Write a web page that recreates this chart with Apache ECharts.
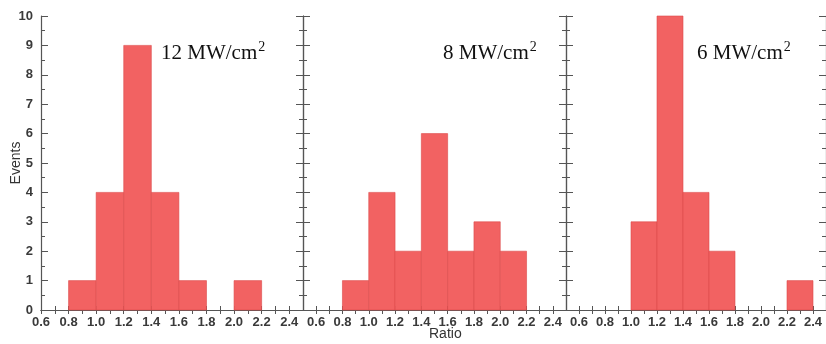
<!DOCTYPE html>
<html>
<head>
<meta charset="utf-8">
<script src="https://cdn.jsdelivr.net/npm/echarts@6/dist/echarts.min.js"></script>
<style>
  html, body { margin: 0; padding: 0; background: #fff; }
  #chart { width: 826px; height: 344px; }
</style>
</head>
<body>
<div id="chart"></div>
<script>
// histogram bins (left edge), bin width 0.2
const binStarts = [0.8, 1.0, 1.2, 1.4, 1.6, 1.8, 2.0, 2.2];
const binWidth = 0.2;
const events12 = [1, 4, 9, 4, 1, 0, 1, 0];
const events8 = [1, 4, 2, 6, 2, 3, 2, 0];
const events6 = [0, 3, 10, 4, 2, 0, 0, 1];
const panelPower = ["12", "8", "6"];
const xTickLabels = [0.6, 0.8, 1.0, 1.2, 1.4, 1.6, 1.8, 2.0, 2.2, 2.4];
const xMinor = [];
for (let i = 6; i <= 24; i++) xMinor.push(i / 10);

const chart = echarts.init(document.getElementById("chart"));

const axisColor = "#555";
const labelFont = {
  color: "#3a3a3a",
  fontSize: 13,
  fontWeight: "bold",
  fontFamily: "Liberation Sans, Arial, sans-serif",
};

const grids = [
  { left: 41, top: 16, width: 262, height: 294 },
  { left: 303, top: 16, width: 263, height: 294 },
  { left: 566, top: 16, width: 262, height: 294 },
];
const xMins = [0.6, 0.5, 0.5];
const allEvents = [events12, events8, events6];

function toData(counts) {
  const out = [];
  binStarts.forEach((s, i) => {
    if (counts[i] > 0) out.push([s, s + binWidth, counts[i]]);
  });
  return out;
}

function renderBin(params, api) {
  const p0 = api.coord([api.value(0), 0]);
  const p1 = api.coord([api.value(1), api.value(2)]);
  return {
    type: "rect",
    shape: { x: p0[0], y: p1[1], width: p1[0] - p0[0], height: p0[1] - p1[1] },
    style: { fill: "#f26262", stroke: "#dc4a4a", lineWidth: 0.6 },
  };
}

const xAxis = [];
const yAxis = [];
const series = [];
grids.forEach((g, i) => {
  xAxis.push({
    type: "value",
    gridIndex: i,
    min: xMins[i],
    max: 2.5,
    position: "bottom",
    splitLine: { show: false },
    axisLine: { lineStyle: { color: axisColor, width: 1.2 } },
    axisTick: { inside: true, length: 4, customValues: xMinor, lineStyle: { color: axisColor } },
    axisLabel: {
      ...labelFont,
      margin: 6,
      customValues: xTickLabels,
      formatter: (v) => v.toFixed(1),
    },
  });
  xAxis.push({
    type: "value",
    gridIndex: i,
    min: xMins[i],
    max: 2.5,
    position: "top",
    splitLine: { show: false },
    axisLine: { lineStyle: { color: axisColor, width: 1.2 } },
    axisTick: { inside: true, length: 4, customValues: xMinor, lineStyle: { color: axisColor } },
    axisLabel: { show: false },
  });
  yAxis.push({
    type: "value",
    gridIndex: i,
    min: 0,
    max: 10,
    interval: 1,
    position: "left",
    splitLine: { show: false },
    axisLine: { show: true, lineStyle: { color: axisColor, width: 1.2 } },
    axisTick: { inside: true, length: 7, lineStyle: { color: axisColor } },
    minorTick: { show: true, splitNumber: 2, length: 4, lineStyle: { color: axisColor } },
    axisLabel: { show: i === 0, ...labelFont, margin: 8 },
    name: i === 0 ? "Events" : "",
    nameLocation: "middle",
    nameGap: 18,
    nameMoveOverlap: false,
    nameTextStyle: { color: "#333", fontSize: 14, fontFamily: "Liberation Sans, Arial, sans-serif" },
  });
  yAxis.push({
    type: "value",
    gridIndex: i,
    min: 0,
    max: 10,
    interval: 1,
    position: "right",
    splitLine: { show: false },
    axisLine: { show: true, lineStyle: { color: axisColor, width: 1.2 } },
    axisTick: { inside: true, length: 7, lineStyle: { color: axisColor } },
    minorTick: { show: true, splitNumber: 2, length: 4, lineStyle: { color: axisColor } },
    axisLabel: { show: false },
  });
  series.push({
    type: "custom",
    xAxisIndex: i * 2,
    yAxisIndex: i * 2,
    renderItem: renderBin,
    encode: { x: [0, 1], y: 2 },
    data: toData(allEvents[i]),
    silent: true,
  });
});

const labelPos = [161, 443, 697];
const graphic = panelPower.map((p, i) => ({
  type: "text",
  left: labelPos[i],
  top: 40,
  style: {
    text: "{n|" + p + " MW/cm}{s|2}",
    rich: {
      n: {
        fontSize: 21,
        lineHeight: 24,
        fill: "#111",
        fontFamily: "Liberation Serif, Times New Roman, serif",
        verticalAlign: "bottom",
      },
      s: {
        fontSize: 14,
        lineHeight: 24,
        fill: "#111",
        fontFamily: "Liberation Serif, Times New Roman, serif",
        verticalAlign: "top",
        padding: [0, 0, 0, 1],
      },
    },
  },
}));
graphic.push({
  type: "text",
  left: 429,
  top: 327,
  style: {
    text: "Ratio",
    fill: "#333",
    fontSize: 14,
    fontFamily: "Liberation Sans, Arial, sans-serif",
  },
});

chart.setOption({
  animation: false,
  grid: grids,
  xAxis: xAxis,
  yAxis: yAxis,
  series: series,
  graphic: graphic,
});
</script>
</body>
</html>
